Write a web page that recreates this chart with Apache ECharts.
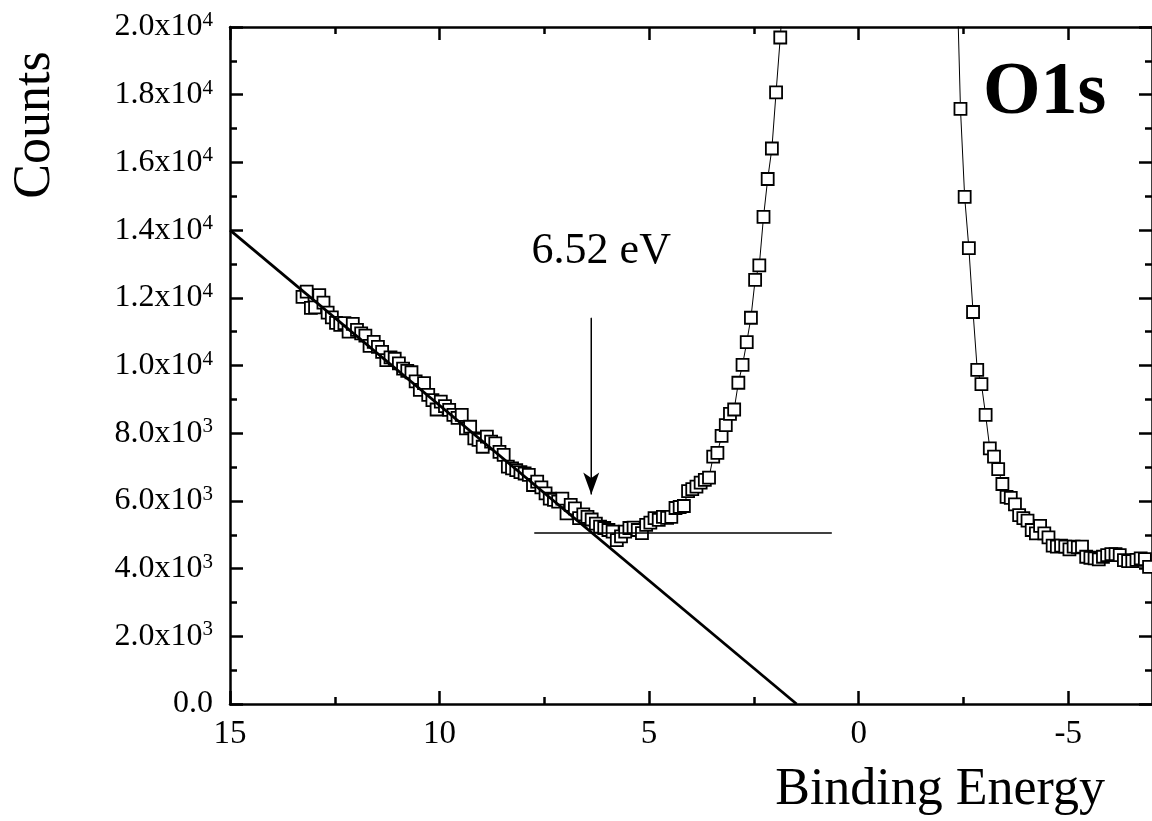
<!DOCTYPE html>
<html>
<head>
<meta charset="utf-8">
<script src="https://cdn.jsdelivr.net/npm/echarts@6/dist/echarts.min.js"></script>
<style>
html,body{margin:0;padding:0;background:#fff;}
#chart{width:1152px;height:821px;}
</style>
</head>
<body>
<div id="chart"></div>
<script>
// ---- data ----
const energyLeft = [13.27,13.17,13.07,12.97,12.87,12.77,12.67,12.57,12.47,12.37,12.27,12.17,12.07,11.97,11.87,11.77,11.67,11.57,11.47,11.37,11.27,11.17,11.07,10.97,10.87,10.77,10.67,10.57,10.47,10.37,10.27,10.17,10.07,9.97,9.87,9.77,9.67,9.57,9.47,9.37,9.27,9.17,9.07,8.97,8.87,8.77,8.67,8.57,8.47,8.37,8.27,8.17,8.07,7.97,7.87,7.77,7.67,7.57,7.47,7.37,7.27,7.17,7.07,6.97,6.87,6.77,6.67,6.57,6.47,6.37,6.27,6.17,6.07,5.97,5.87,5.77,5.67,5.57,5.47,5.37,5.27,5.17,5.07,4.97,4.87,4.77,4.67,4.57,4.47,4.37,4.27,4.17,4.07,3.97,3.87,3.77,3.67,3.57,3.47,3.37,3.27,3.17,3.07,2.97,2.87,2.77,2.67,2.57,2.47,2.37,2.27,2.17,2.07,1.97,1.87,1.77];
const countsLeft = [12030,12180,11700,11720,12080,11860,11560,11420,11260,11200,11250,11000,11230,11050,10950,10880,10580,10700,10550,10400,10160,10240,10200,10060,9910,9840,9800,9530,9280,9480,9130,8980,8700,8930,8800,8690,8540,8450,8540,8140,8190,7850,7800,7600,7900,7750,7700,7450,7360,7010,6960,6910,6850,6810,6770,6470,6570,6400,6220,6070,6030,5980,6070,5630,5880,5780,5490,5600,5530,5450,5330,5240,5200,5140,5090,4840,4950,5090,5200,5210,5140,5050,5290,5360,5490,5440,5530,5500,5530,5790,5820,5850,6290,6350,6420,6540,6620,6690,7310,7420,7920,8240,8570,8700,9490,10020,10690,11410,12530,12960,14390,15510,16410,18070,19690,21500];
const energyRight = [-2.33,-2.43,-2.53,-2.63,-2.73,-2.83,-2.93,-3.03,-3.13,-3.23,-3.33,-3.43,-3.53,-3.63,-3.73,-3.83,-3.93,-4.03,-4.13,-4.23,-4.33,-4.43,-4.53,-4.63,-4.73,-4.83,-4.93,-5.03,-5.13,-5.23,-5.33,-5.43,-5.53,-5.63,-5.73,-5.83,-5.93,-6.03,-6.13,-6.23,-6.33,-6.43,-6.53,-6.63,-6.73,-6.83,-6.93];
const countsRight = [22200,17580,14980,13470,11580,9870,9450,8540,7550,7310,6940,6500,6120,6090,5900,5580,5490,5420,5140,5040,5260,5040,4920,4680,4650,4680,4650,4570,4650,4630,4650,4350,4320,4300,4270,4350,4400,4430,4430,4400,4250,4220,4220,4260,4300,4280,4050];
// linear fit of the leading edge
const fitLine = [[15, 14000], [1.48, 0]];
// background level
const baseLine = [[7.74, 5050], [0.64, 5050]];
// arrow marking the onset
const arrowPts = [[6.38, 11400], [6.38, 6190]];
const arrowLabel = '6.52 eV';
const xMajorTicks = [15, 10, 5, 0, -5];
const xMinorTicks = [12.5, 7.5, 2.5, -2.5];
const peakLabel = 'O1s';
const xTitle = 'Binding Energy';
const yTitle = 'Counts';

const FONT = "'Liberation Serif','Times New Roman',serif";

const spectrum = energyLeft.map((e, i) => [e, countsLeft[i]])
  .concat(energyRight.map((e, i) => [e, countsRight[i]]));

function yFmt(v) {
  if (v === 0) return '{b|0.0}';
  const ex = Math.floor(Math.log10(v) + 1e-9);
  const m = v / Math.pow(10, ex);
  return '{b|' + m.toFixed(1) + 'x10}{s|' + ex + '}';
}

const axisLineStyle = { color: '#000', width: 2.5 };
const xRange = { type: 'value', min: -7, max: 15, inverse: true, splitLine: { show: false } };

const chart = echarts.init(document.getElementById('chart'));
chart.setOption({
  animation: false,
  backgroundColor: '#fff',
  grid: { left: 230, top: 27, width: 924, height: 677, containLabel: false },
  xAxis: [
    Object.assign({}, xRange, {
      position: 'bottom',
      axisLine: { show: true, onZero: false, lineStyle: axisLineStyle },
      axisTick: { show: true, inside: true, length: 13, customValues: xMajorTicks, lineStyle: axisLineStyle },
      axisLabel: { show: true, customValues: xMajorTicks, margin: 14, color: '#000', fontFamily: FONT, fontSize: 33 }
    }),
    Object.assign({}, xRange, {
      position: 'bottom',
      axisLine: { show: false, onZero: false },
      axisTick: { show: true, inside: true, length: 7, customValues: xMinorTicks, lineStyle: axisLineStyle },
      axisLabel: { show: false }
    }),
    Object.assign({}, xRange, {
      position: 'top',
      axisLine: { show: true, onZero: false, lineStyle: axisLineStyle },
      axisTick: { show: true, inside: true, length: 13, customValues: xMajorTicks, lineStyle: axisLineStyle },
      axisLabel: { show: false }
    }),
    Object.assign({}, xRange, {
      position: 'top',
      axisLine: { show: false, onZero: false },
      axisTick: { show: true, inside: true, length: 7, customValues: xMinorTicks, lineStyle: axisLineStyle },
      axisLabel: { show: false }
    })
  ],
  yAxis: [
    {
      type: 'value', position: 'left', min: 0, max: 20000, interval: 2000,
      splitLine: { show: false },
      axisLine: { show: true, onZero: false, lineStyle: axisLineStyle },
      axisTick: { show: true, inside: true, length: 13, lineStyle: axisLineStyle },
      minorTick: { show: true, splitNumber: 2, length: 7, lineStyle: axisLineStyle },
      axisLabel: {
        margin: 17, formatter: yFmt, color: '#000',
        rich: {
          b: { fontFamily: FONT, fontSize: 32, color: '#000', lineHeight: 34 },
          s: { fontFamily: FONT, fontSize: 21, color: '#000', verticalAlign: 'top', lineHeight: 20 }
        }
      }
    },
    {
      type: 'value', position: 'right', min: 0, max: 20000, interval: 2000,
      splitLine: { show: false },
      axisLine: { show: true, onZero: false, lineStyle: axisLineStyle },
      axisTick: { show: true, inside: true, length: 13, lineStyle: axisLineStyle },
      minorTick: { show: true, splitNumber: 2, length: 7, lineStyle: axisLineStyle },
      axisLabel: { show: false }
    }
  ],
  series: [
    {
      type: 'line', xAxisIndex: 0, yAxisIndex: 0, data: spectrum, clip: true,
      symbol: 'rect', symbolSize: 12, showAllSymbol: true,
      lineStyle: { color: '#000', width: 1 },
      itemStyle: { color: '#fff', borderColor: '#000', borderWidth: 1.8 },
      z: 2
    },
    {
      type: 'line', xAxisIndex: 0, yAxisIndex: 0, data: fitLine, clip: true,
      symbol: 'none', lineStyle: { color: '#000', width: 2.8 }, z: 3
    },
    {
      type: 'line', xAxisIndex: 0, yAxisIndex: 0, data: baseLine, clip: true,
      symbol: 'none', lineStyle: { color: '#000', width: 1.5 }, z: 3
    },
    {
      type: 'line', xAxisIndex: 0, yAxisIndex: 0, clip: false,
      data: [
        { value: arrowPts[0], symbol: 'circle', symbolSize: 1,
          label: { show: true, position: 'top', distance: 44, offset: [10, 0], formatter: arrowLabel,
                   color: '#000', fontFamily: FONT, fontSize: 44 } },
        { value: arrowPts[1], symbol: 'arrow', symbolRotate: 180, symbolSize: [12, 22] }
      ],
      lineStyle: { color: '#000', width: 1.5 },
      itemStyle: { color: '#000', borderWidth: 0 },
      z: 4
    }
  ],
  graphic: [
    { type: 'text', x: 983, y: 94, style: { text: peakLabel, font: 'bold 74px ' + FONT, fill: '#000', align: 'left', verticalAlign: 'middle' }, z: 10 },
    { type: 'text', x: 1105, y: 790, style: { text: xTitle, font: '52px ' + FONT, fill: '#000', align: 'right', verticalAlign: 'middle' }, z: 10 },
    { type: 'text', x: 35, y: 125, rotation: Math.PI / 2, style: { text: yTitle, font: '52px ' + FONT, fill: '#000', align: 'center', verticalAlign: 'middle' }, z: 10 }
  ]
});
</script>
</body>
</html>
